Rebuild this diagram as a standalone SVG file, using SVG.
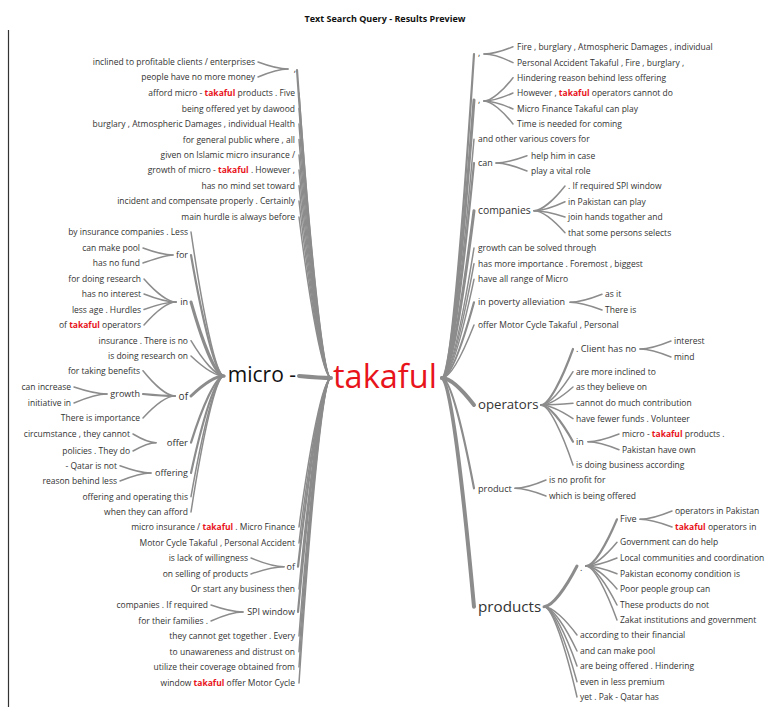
<svg xmlns="http://www.w3.org/2000/svg" width="770" height="707" viewBox="0 0 770 707">
<style>
text{font-family:"Open Sans","Noto Sans","DejaVu Sans",sans-serif;fill:#333}
.t{font-size:8.5px}
.l{font-size:8.5px;text-anchor:end}
.n{font-size:9px}
.nl{font-size:9px;text-anchor:end}
.hl{fill:#e8141b;font-weight:bold}
.title{font-size:9px;font-weight:bold;text-anchor:middle;fill:#111}
#links path{fill:none;stroke:#8c8c8c;stroke-width:1.5;stroke-linecap:round}
#links path.w2{stroke-width:2.2}
#links path.w3{stroke-width:3}
#links path.w4{stroke-width:4}
</style>
<rect width="770" height="707" fill="#fff"/>
<line x1="8.5" y1="30" x2="8.5" y2="707" stroke="#333" stroke-width="1.2"/>
<text class="title" x="385" y="22">Text Search Query - Results Preview</text>

<g id="links">
<!-- root to left side -->
<path class="w2" d="M331 378C322.5 378 308.9 239.4 297 70"/>
<path d="M331 378C323 378 310 249.8 299 93"/>
<path d="M331 378C323 378 310 256.7 299 108.5"/>
<path d="M331 378C323 378 310 263.7 299 124"/>
<path d="M331 378C323 378 310 270.7 299 139.5"/>
<path d="M331 378C323 378 310 277.7 299 155"/>
<path d="M331 378C323 378 310 284.4 299 170"/>
<path d="M331 378C323 378 310 291.5 299 185.7"/>
<path d="M331 378C323 378 310 298.4 299 201"/>
<path d="M331 378C323 378 310 305.6 299 217"/>
<path class="w4" d="M331 378C323 378 310 377 299 376"/>
<path d="M331 378C323 378 310 445 299 527"/>
<path d="M331 378C323 378 310 452.3 299 543"/>
<path class="w2" d="M331 378C323 378 310 462.9 298 566.7"/>
<path d="M331 378C323 378 310 473 299 589"/>
<path class="w2" d="M331 378C323 378 310 483.3 298 612"/>
<path d="M331 378C323 378 310 494.1 299 636"/>
<path d="M331 378C323 378 310 501.2 299 651.7"/>
<path d="M331 378C323 378 310 508 299 667"/>
<path d="M331 378C323 378 310 515.3 299 683"/>
<!-- "," left -->
<path d="M288 69C280.5 69 268.5 65.9 258 62"/>
<path d="M288 69C280.5 69 268.5 72.6 258 77"/>
<!-- micro - children -->
<path d="M224 376C215.8 376 202.6 311.2 191 232"/>
<path class="w2" d="M224 376C215.8 376 202.6 321.6 191 255"/>
<path class="w3" d="M224 376C215.8 376 202.6 342.7 191 302"/>
<path d="M224 376C215.8 376 202.6 360.1 191 340.7"/>
<path d="M224 376C215.8 376 202.6 367 191 356"/>
<path class="w3" d="M224 376C215.8 376 202.6 385 191 396"/>
<path class="w2" d="M224 376C215.8 376 202.6 406 191 442.7"/>
<path class="w2" d="M224 376C215.8 376 202.6 419.7 191 473"/>
<path d="M224 376C215.8 376 202.6 430.3 191 496.7"/>
<path d="M224 376C215.8 376 202.6 437.2 191 512"/>
<!-- for -->
<path d="M173 255C165.5 255 153.5 251.9 143 248"/>
<path d="M173 255C165.5 255 153.5 259.4 143 263"/>
<!-- in -->
<path d="M176 302C168 302 155.2 291.7 144 279"/>
<path d="M176 302C168 302 155.2 298.4 144 294"/>
<path d="M176 302C168 302 155.2 305.4 144 309.5"/>
<path d="M176 302C168 302 155.2 312.4 144 325"/>
<!-- of -->
<path d="M175 396C167 396 154.2 384.6 143 370.7"/>
<path class="w2" d="M175 396C167 396 154.2 395.1 143 394"/>
<path d="M175 396C167 396 154.2 405.9 143 418"/>
<!-- growth -->
<path d="M107 394C98.8 394 85.6 390.9 74 387"/>
<path d="M107 394C98.8 394 85.6 398.1 74 403"/>
<!-- offer -->
<path d="M156 442.7C150.3 442.7 141.1 438.8 133 434"/>
<path d="M156 442.7C150.3 442.7 141.1 446.4 133 451"/>
<!-- offering -->
<path d="M151 473C143.3 473 130.9 469.7 120 465.7"/>
<path d="M151 473C143.3 473 130.9 476.6 120 481"/>
<!-- of (lower) -->
<path d="M284 566.7C275.8 566.7 262.6 562.8 251 558"/>
<path d="M284 566.7C275.8 566.7 262.6 570 251 574"/>
<!-- SPI window -->
<path d="M243 612C235 612 222.2 608.9 211 605"/>
<path d="M243 612C235 612 222.2 616 211 621"/>

<!-- root to right side -->
<path class="w2" d="M442 378C450.3 378 462.5 232.2 474 54"/>
<path class="w3" d="M442 378C450.3 378 462.5 252.9 474 100"/>
<path d="M442 378C450.3 378 462.5 270.6 474 139.3"/>
<path class="w2" d="M442 378C450.3 378 462.5 281.3 474 163"/>
<path class="w3" d="M442 378C450.3 378 462.5 302.7 474 210.7"/>
<path d="M442 378C450.3 378 462.5 319.5 474 248"/>
<path d="M442 378C450.3 378 462.5 326.6 474 263.7"/>
<path d="M442 378C450.3 378 462.5 333.6 474 279.3"/>
<path class="w2" d="M442 378C450.3 378 462.5 343.9 474 302.3"/>
<path d="M442 378C450.3 378 462.5 354.2 474 325"/>
<path class="w4" d="M442 378C450.3 378 462.5 390.2 474 405"/>
<path class="w2" d="M442 378C450.3 378 462.5 427.6 474 488.3"/>
<path class="w4" d="M442 378C450.3 378 462.5 480.9 474 606.7"/>
<!-- "," top -->
<path d="M484 54C491.5 54 503.5 50.7 513 46.7"/>
<path d="M484 54C491.5 54 503.5 57.9 513 62.7"/>
<!-- "," second -->
<path d="M484 101C491.3 101 503.2 90.5 513 77.7"/>
<path d="M484 101C491.3 101 503.2 97.4 513 93"/>
<path d="M484 101C491.3 101 503.2 104.6 513 109"/>
<path d="M484 101C491.3 101 503.2 111.4 513 124"/>
<!-- can -->
<path d="M496 163C503.8 163 516.2 159.7 527 155.7"/>
<path d="M496 163C503.8 163 516.2 166.6 527 171"/>
<!-- companies -->
<path d="M534 210.7C541.8 210.7 554.2 199.6 565 186"/>
<path d="M534 210.7C541.8 210.7 554.2 206.7 565 201.7"/>
<path d="M534 210.7C541.8 210.7 554.2 213.5 565 217"/>
<path d="M534 210.7C541.8 210.7 554.2 220.6 565 232.7"/>
<!-- in poverty alleviation -->
<path d="M570 302.3C578 302.3 590.8 298.7 602 294.3"/>
<path d="M570 302.3C578 302.3 590.8 305.8 602 310"/>
<!-- operators -->
<path class="w2" d="M541 405C549 405 561.8 379.8 573 349"/>
<path d="M541 405C549 405 561.8 390 573 371.7"/>
<path d="M541 405C549 405 561.8 396.9 573 387"/>
<path d="M541 405C549 405 561.8 404.3 573 403.3"/>
<path d="M541 405C549 405 561.8 411.2 573 418.7"/>
<path class="w2" d="M541 405C549 405 561.8 421.5 573 441.7"/>
<path d="M541 405C549 405 561.8 432 573 465"/>
<!-- . Client has no -->
<path d="M640 349C647.8 349 660.2 345.4 671 341"/>
<path d="M640 349C647.8 349 660.2 352.6 671 357"/>
<!-- in (operators) -->
<path d="M588 441.7C595.8 441.7 608.2 438.2 619 434"/>
<path d="M588 441.7C595.8 441.7 608.2 445.3 619 449.7"/>
<!-- product -->
<path d="M515 488.3C522.8 488.3 535.2 484.6 546 480"/>
<path d="M515 488.3C522.8 488.3 535.2 491.8 546 496"/>
<!-- products -->
<path class="w3" d="M544 606.7C552.3 606.7 565.5 588.4 577 566"/>
<path d="M544 606.7C552.3 606.7 565.5 619.4 577 635"/>
<path d="M544 606.7C552.3 606.7 565.5 626.6 577 651"/>
<path d="M544 606.7C552.3 606.7 565.5 633.4 577 666"/>
<path d="M544 606.7C552.3 606.7 565.5 640.5 577 681.7"/>
<path d="M544 606.7C552.3 606.7 565.5 647.4 577 697"/>
<!-- "." -->
<path class="w2" d="M586 566C593.8 566 606.2 545 617 519.3"/>
<path d="M586 566C593.8 566 606.2 555.3 617 542.3"/>
<path d="M586 566C593.8 566 606.2 562.4 617 558"/>
<path d="M586 566C593.8 566 606.2 569.5 617 573.7"/>
<path d="M586 566C593.8 566 606.2 576.3 617 589"/>
<path d="M586 566C593.8 566 606.2 583.6 617 605"/>
<path d="M586 566C593.8 566 606.2 590.3 617 620"/>
<!-- Five -->
<path d="M640 519.3C648 519.3 660.8 515.6 672 511"/>
<path d="M640 519.3C648 519.3 660.8 522.8 672 527"/>
</g>

<!-- root -->
<g id="node-takaful"><text x="333" y="387.5" style="font-size:32.5px;fill:#e8141b">takaful</text></g>

<!-- left branch -->
<g id="node-comma-left">
<text class="nl" x="296" y="72">,</text>
<text class="l" x="255" y="65">inclined to profitable clients / enterprises</text>
<text class="l" x="255" y="80">people have no more money</text>
</g>
<g id="node-left-leaves">
<text class="l" x="295" y="96">afford micro - <tspan class="hl">takaful</tspan> products . Five</text>
<text class="l" x="295" y="111.5">being offered yet by dawood</text>
<text class="l" x="295" y="127">burglary , Atmospheric Damages , individual Health</text>
<text class="l" x="295" y="142.5">for general public where , all</text>
<text class="l" x="295" y="158">given on Islamic micro insurance /</text>
<text class="l" x="295" y="173">growth of micro - <tspan class="hl">takaful</tspan> . However ,</text>
<text class="l" x="295" y="188.7">has no mind set toward</text>
<text class="l" x="295" y="204">incident and compensate properly . Certainly</text>
<text class="l" x="295" y="220">main hurdle is always before</text>
<text class="l" x="295" y="530">micro insurance / <tspan class="hl">takaful</tspan> . Micro Finance</text>
<text class="l" x="295" y="546">Motor Cycle Takaful , Personal Accident</text>
<text class="l" x="295" y="592">Or start any business then</text>
<text class="l" x="295" y="639">they cannot get together . Every</text>
<text class="l" x="295" y="654.7">to unawareness and distrust on</text>
<text class="l" x="295" y="670">utilize their coverage obtained from</text>
<text class="l" x="295" y="686">window <tspan class="hl">takaful</tspan> offer Motor Cycle</text>
</g>
<g id="node-micro"><text x="296" y="382" style="font-size:21px;text-anchor:end;fill:#111">micro -</text></g>
<g id="node-micro-leaves">
<text class="l" x="188" y="235">by insurance companies . Less</text>
<text class="l" x="188" y="343.7">insurance . There is no</text>
<text class="l" x="188" y="359">is doing research on</text>
<text class="l" x="188" y="499.7">offering and operating this</text>
<text class="l" x="188" y="515">when they can afford</text>
</g>
<g id="node-for">
<text class="nl" x="188" y="258">for</text>
<text class="l" x="140" y="251">can make pool</text>
<text class="l" x="140" y="266">has no fund</text>
</g>
<g id="node-in-left">
<text class="nl" x="188" y="305">in</text>
<text class="l" x="141" y="282">for doing research</text>
<text class="l" x="141" y="297">has no interest</text>
<text class="l" x="141" y="312.5">less age . Hurdles</text>
<text class="l" x="141" y="328">of <tspan class="hl">takaful</tspan> operators</text>
</g>
<g id="node-of">
<text class="nl" x="188" y="399.5" style="font-size:10px">of</text>
<text class="l" x="140" y="373.7">for taking benefits</text>
<text class="l" x="140" y="421">There is importance</text>
</g>
<g id="node-growth">
<text class="nl" x="140" y="397">growth</text>
<text class="l" x="71" y="390">can increase</text>
<text class="l" x="71" y="406">initiative in</text>
</g>
<g id="node-offer">
<text class="nl" x="188" y="446" style="font-size:9.5px">offer</text>
<text class="l" x="130" y="437">circumstance , they cannot</text>
<text class="l" x="130" y="454">policies . They do</text>
</g>
<g id="node-offering">
<text class="nl" x="188" y="476">offering</text>
<text class="l" x="117" y="468.7">- Qatar is not</text>
<text class="l" x="117" y="484">reason behind less</text>
</g>
<g id="node-of-lower">
<text class="nl" x="295" y="569.7">of</text>
<text class="l" x="248" y="561">is lack of willingness</text>
<text class="l" x="248" y="577">on selling of products</text>
</g>
<g id="node-spi">
<text class="nl" x="295" y="615">SPI window</text>
<text class="l" x="208" y="608">companies . If required</text>
<text class="l" x="208" y="624">for their families .</text>
</g>

<!-- right branch -->
<g id="node-comma-top">
<text class="n" x="478" y="56">,</text>
<text class="t" x="517" y="49.7">Fire , burglary , Atmospheric Damages , individual</text>
<text class="t" x="517" y="65.7">Personal Accident Takaful , Fire , burglary ,</text>
</g>
<g id="node-comma-second">
<text class="n" x="478" y="103">,</text>
<text class="t" x="517" y="80.7">Hindering reason behind less offering</text>
<text class="t" x="517" y="96">However , <tspan class="hl">takaful</tspan> operators cannot do</text>
<text class="t" x="517" y="112">Micro Finance Takaful can play</text>
<text class="t" x="517" y="127">Time is needed for coming</text>
</g>
<g id="node-right-leaves">
<text class="t" x="478" y="142.3">and other various covers for</text>
<text class="t" x="478" y="251">growth can be solved through</text>
<text class="t" x="478" y="266.7">has more importance . Foremost , biggest</text>
<text class="t" x="478" y="282.3">have all range of Micro</text>
<text class="t" x="478" y="328">offer Motor Cycle Takaful , Personal</text>
</g>
<g id="node-can">
<text class="n" x="478" y="166">can</text>
<text class="t" x="531" y="158.7">help him in case</text>
<text class="t" x="531" y="174">play a vital role</text>
</g>
<g id="node-companies">
<text x="478" y="214.2" style="font-size:10.4px">companies</text>
<text class="t" x="568" y="189">. If required SPI window</text>
<text class="t" x="568" y="204.7">in Pakistan can play</text>
<text class="t" x="568" y="220">join hands togather and</text>
<text class="t" x="568" y="235.7">that some persons selects</text>
</g>
<g id="node-poverty">
<text class="n" x="478" y="305.3">in poverty alleviation</text>
<text class="t" x="605" y="297.3">as it</text>
<text class="t" x="605" y="313">There is</text>
</g>
<g id="node-operators">
<text x="478" y="409.3" style="font-size:13.2px">operators</text>
<text class="t" x="576" y="374.7">are more inclined to</text>
<text class="t" x="576" y="390">as they believe on</text>
<text class="t" x="576" y="406.3">cannot do much contribution</text>
<text class="t" x="576" y="421.7">have fewer funds . Volunteer</text>
<text class="t" x="576" y="468">is doing business according</text>
</g>
<g id="node-client">
<text x="576" y="352.2" style="font-size:9.2px">. Client has no</text>
<text class="t" x="674" y="344">interest</text>
<text class="t" x="674" y="360">mind</text>
</g>
<g id="node-in-right">
<text class="n" x="576" y="444.7">in</text>
<text class="t" x="622" y="437">micro - <tspan class="hl">takaful</tspan> products .</text>
<text class="t" x="622" y="452.7">Pakistan have own</text>
</g>
<g id="node-product">
<text x="478" y="491.5" style="font-size:9.2px">product</text>
<text class="t" x="549" y="483">is no profit for</text>
<text class="t" x="549" y="499">which is being offered</text>
</g>
<g id="node-products">
<text x="478" y="611.7" style="font-size:15.2px">products</text>
<text class="t" x="580" y="638">according to their financial</text>
<text class="t" x="580" y="654">and can make pool</text>
<text class="t" x="580" y="669">are being offered . Hindering</text>
<text class="t" x="580" y="684.7">even in less premium</text>
<text class="t" x="580" y="700">yet . Pak - Qatar has</text>
</g>
<g id="node-dot">
<text class="n" x="580" y="571">.</text>
<text class="t" x="620" y="545.3">Government can do help</text>
<text class="t" x="620" y="561">Local communities and coordination</text>
<text class="t" x="620" y="576.7">Pakistan economy condition is</text>
<text class="t" x="620" y="592">Poor people group can</text>
<text class="t" x="620" y="608">These products do not</text>
<text class="t" x="620" y="623">Zakat institutions and government</text>
</g>
<g id="node-five">
<text class="n" x="620" y="522.3">Five</text>
<text class="t" x="675" y="514">operators in Pakistan</text>
<text class="t" x="675" y="530"><tspan class="hl">takaful</tspan> operators in</text>
</g>
</svg>
